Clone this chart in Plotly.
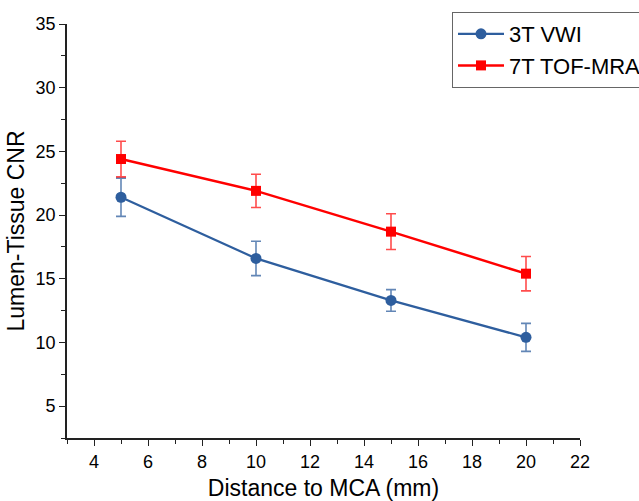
import plotly.graph_objects as go

x_vals = [5, 10, 15, 20]
vwi_vals = [21.4, 16.6, 13.3, 10.4]
vwi_err = [1.5, 1.35, 0.85, 1.1]
tof_vals = [24.4, 21.9, 18.7, 15.4]
tof_err = [1.4, 1.3, 1.4, 1.35]

blue = "#2E5E9E"
red = "#FF0000"
font_family = "Liberation Sans, Arial, sans-serif"

fig = go.Figure()
fig.add_trace(go.Scatter(
    x=x_vals, y=vwi_vals, name="3T VWI", mode="lines+markers",
    line=dict(color=blue, width=2.2),
    marker=dict(symbol="circle", size=11, color=blue),
    error_y=dict(type="data", array=vwi_err, visible=True, color="rgba(46,94,158,0.75)", thickness=1.6, width=5),
))
fig.add_trace(go.Scatter(
    x=x_vals, y=tof_vals, name="7T TOF-MRA", mode="lines+markers",
    line=dict(color=red, width=2.5),
    marker=dict(symbol="square", size=10, color=red),
    error_y=dict(type="data", array=tof_err, visible=True, color="rgba(255,0,0,0.7)", thickness=1.6, width=5),
))

fig.update_layout(
    width=639, height=501,
    margin=dict(l=67, r=59, t=24, b=63, autoexpand=False),
    paper_bgcolor="white", plot_bgcolor="white",
    font=dict(family=font_family, color="black", size=18),
    legend=dict(
        x=(452 - 67) / 513, y=1 + 12 / 414, xanchor="left", yanchor="top",
        bordercolor="#666666", borderwidth=1, bgcolor="white",
        font=dict(size=22), tracegroupgap=0, itemwidth=46,
    ),
    showlegend=True,
)
fig.update_xaxes(
    range=[3, 22], dtick=2, tick0=0, showgrid=False, zeroline=False,
    showline=True, linecolor="#222222", linewidth=1.8, automargin=False,
    ticks="outside", ticklen=6, tickwidth=1.3, tickcolor="#222222",
    minor=dict(ticks="outside", dtick=1, ticklen=4, tickcolor="#222222", tickwidth=1.3),
    title=dict(text="Distance to MCA (mm)", font=dict(size=23), standoff=11),
    tickfont=dict(size=18),
)
fig.update_yaxes(
    range=[2.5, 35], dtick=5, tick0=0, showgrid=False, zeroline=False,
    showline=True, linecolor="#222222", linewidth=1.8, automargin=False,
    ticks="outside", ticklen=6, tickwidth=1.3, tickcolor="#222222",
    minor=dict(ticks="outside", dtick=2.5, ticklen=4, tickcolor="#222222", tickwidth=1.3),
    title=dict(text="Lumen-Tissue CNR", font=dict(size=23), standoff=4),
    tickfont=dict(size=18),
)

fig.write_html(
    "out.html",
    config={"displayModeBar": False},
    post_script="document.body.style.margin='0';",
)
